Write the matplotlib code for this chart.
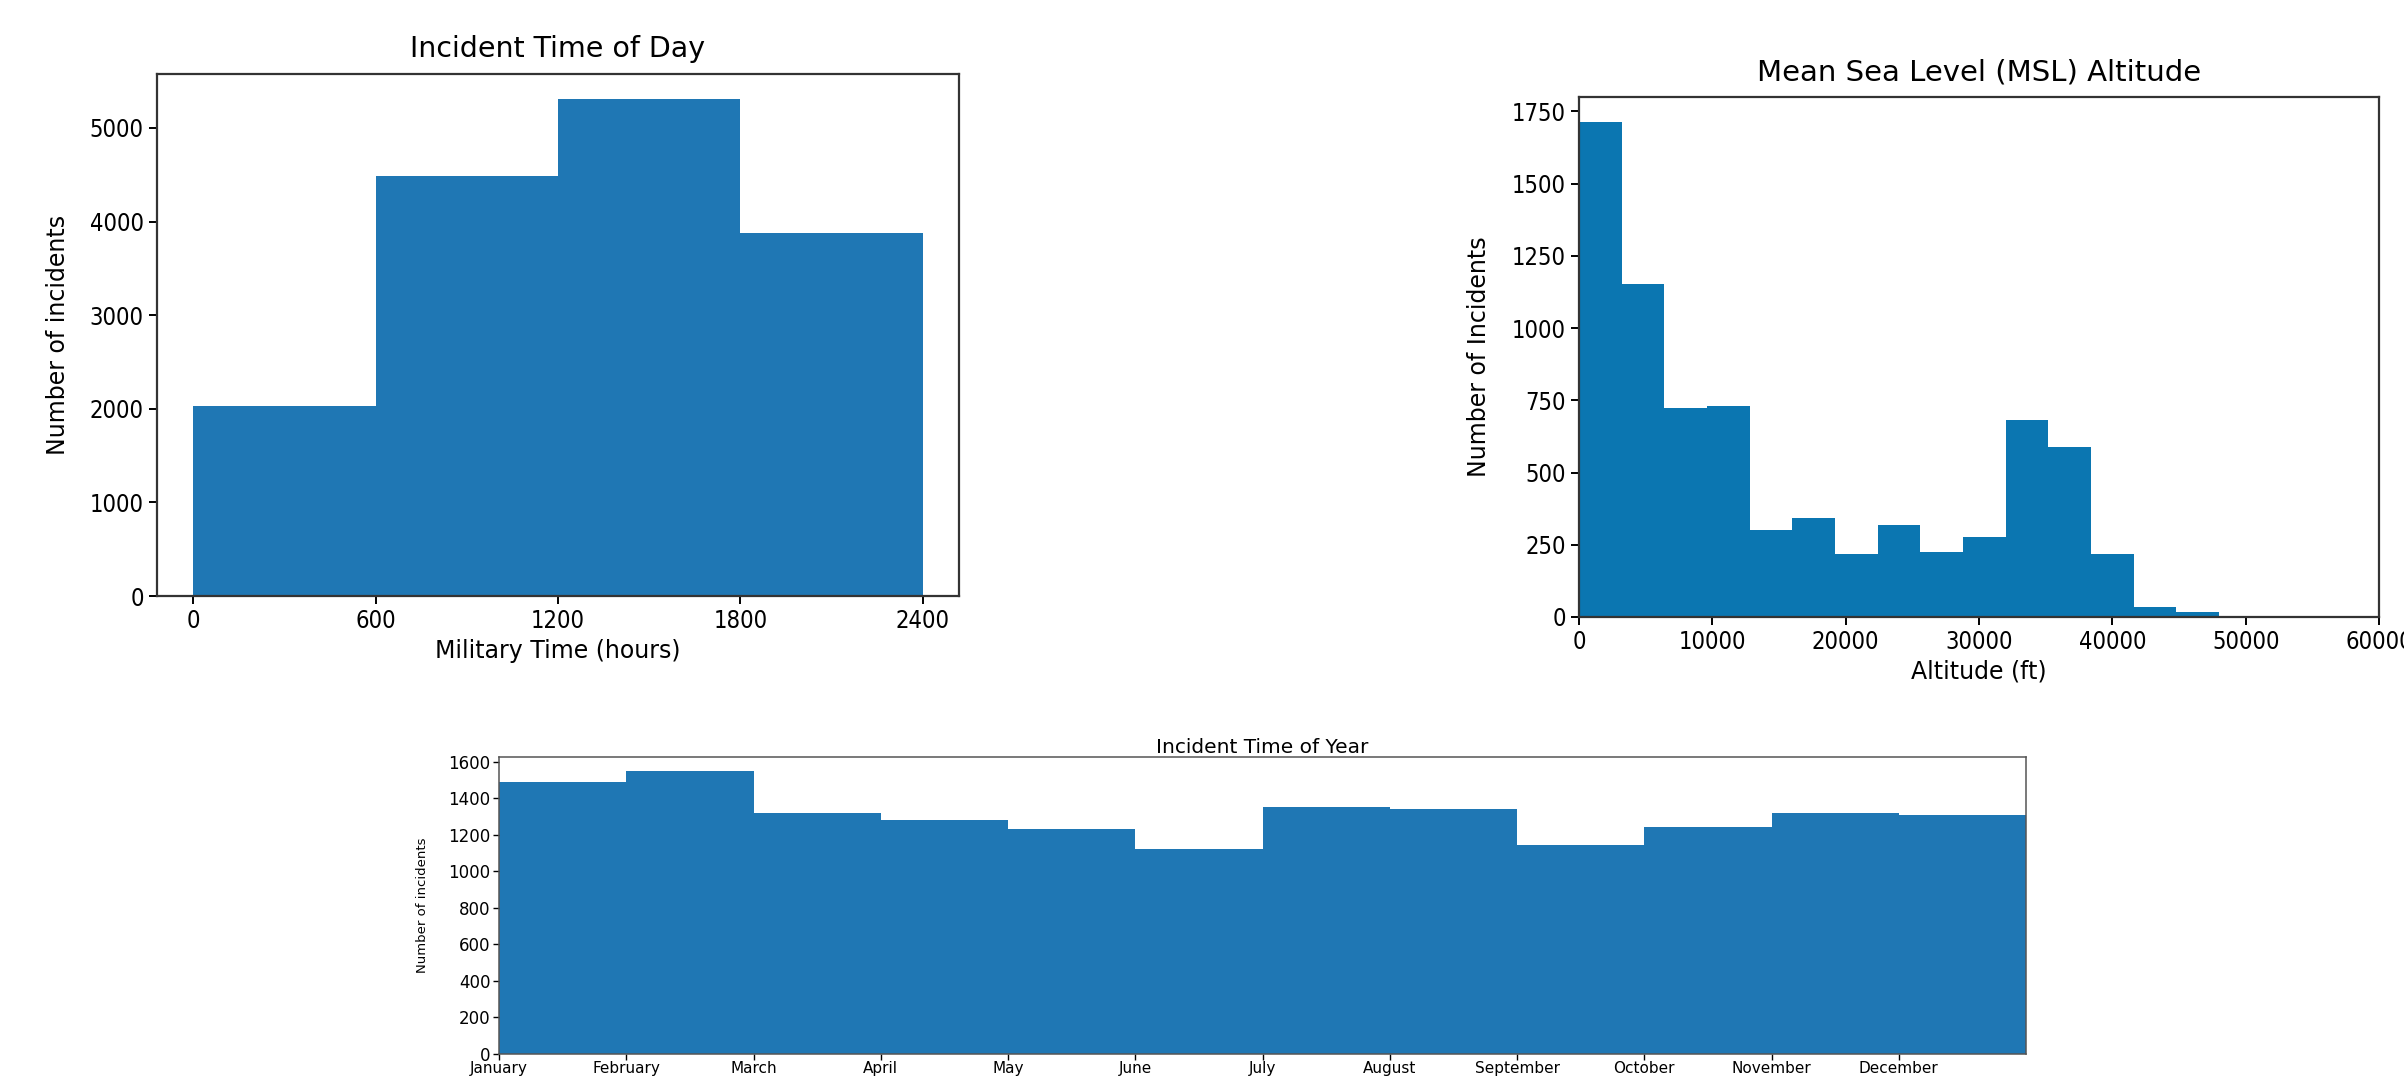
import numpy as np
import matplotlib
matplotlib.use("Agg")
import matplotlib.pyplot as plt

# Incident time of day (military time bins)
hour_edges = [0, 600, 1200, 1800, 2400]
hour_counts = [2030, 4490, 5310, 3880]

# Mean sea level altitude (ft)
alt_edges = [0, 3200, 6400, 9600, 12800, 16000, 19200, 22400, 25600,
             28800, 32000, 35200, 38400, 41600, 44800, 48000]
alt_counts = [1714, 1153, 723, 730, 300, 342, 217, 318, 226, 276,
              681, 589, 217, 36, 19]

# Incident time of year
months = ["January", "February", "March", "April", "May", "June", "July",
          "August", "September", "October", "November", "December"]
month_counts = [1488, 1549, 1320, 1280, 1234, 1121, 1351, 1344, 1143,
                1245, 1320, 1307]

W, H = 2404, 1078
fig = plt.figure(figsize=(W / 100, H / 100), dpi=100)


def box(left, top, right, bottom):
    return [left / W, (H - bottom) / H, (right - left) / W, (bottom - top) / H]


def style_ticks(ax, size):
    for lab in ax.get_xticklabels() + ax.get_yticklabels():
        lab.set_fontsize(size)
        lab.set_fontstretch("condensed")


# Top left: time of day
ax1 = fig.add_axes(box(157, 74, 959, 596))
ax1.hist(hour_edges[:-1], bins=hour_edges, weights=hour_counts, color="#1f77b4")
ax1.set_xticks(hour_edges)
ax1.set_title("Incident Time of Day", fontsize=20.5, pad=12)
ax1.set_xlabel("Military Time (hours)", fontsize=17)
ax1.set_ylabel("Number of incidents", fontsize=17, labelpad=14)
ax1.tick_params(length=6, width=1.4)
style_ticks(ax1, 17)
for s in ax1.spines.values():
    s.set_linewidth(1.6)
    s.set_color("#333333")

# Top right: altitude
ax2 = fig.add_axes(box(1579, 97, 2379, 617))
ax2.hist(alt_edges[:-1], bins=alt_edges, weights=alt_counts, color="#0b76b1")
ax2.set_xlim(0, 60000)
ax2.set_yticks(np.arange(0, 1751, 250))
ax2.set_title("Mean Sea Level (MSL) Altitude", fontsize=21, pad=12)
ax2.set_xlabel("Altitude (ft)", fontsize=17)
ax2.set_ylabel("Number of Incidents", fontsize=17, labelpad=15)
ax2.tick_params(length=6, width=1.4)
style_ticks(ax2, 17)
for s in ax2.spines.values():
    s.set_linewidth(1.6)
    s.set_color("#333333")

# Bottom: time of year
month_edges = np.arange(1, len(months) + 2)
ax3 = fig.add_axes(box(499, 757, 2026, 1054))
ax3.hist(month_edges[:-1], bins=month_edges, weights=month_counts, color="#1f77b4")
ax3.set_xlim(month_edges[0], month_edges[-1])
ax3.set_xticks(month_edges[:-1])
ax3.set_xticklabels(months)
ax3.set_yticks(np.arange(0, 1601, 200))
ax3.set_title("Incident Time of Year", fontsize=14.5, pad=3)
ax3.set_ylabel("Number of incidents", fontsize=9.5, labelpad=14)
ax3.tick_params(axis="y", labelsize=12, length=4, width=1.0, pad=2)
ax3.tick_params(axis="x", labelsize=11, length=4, width=1.0, pad=1)
for s in ax3.spines.values():
    s.set_linewidth(1.1)
    s.set_color("#555555")

fig.savefig("out.png", dpi=100)
